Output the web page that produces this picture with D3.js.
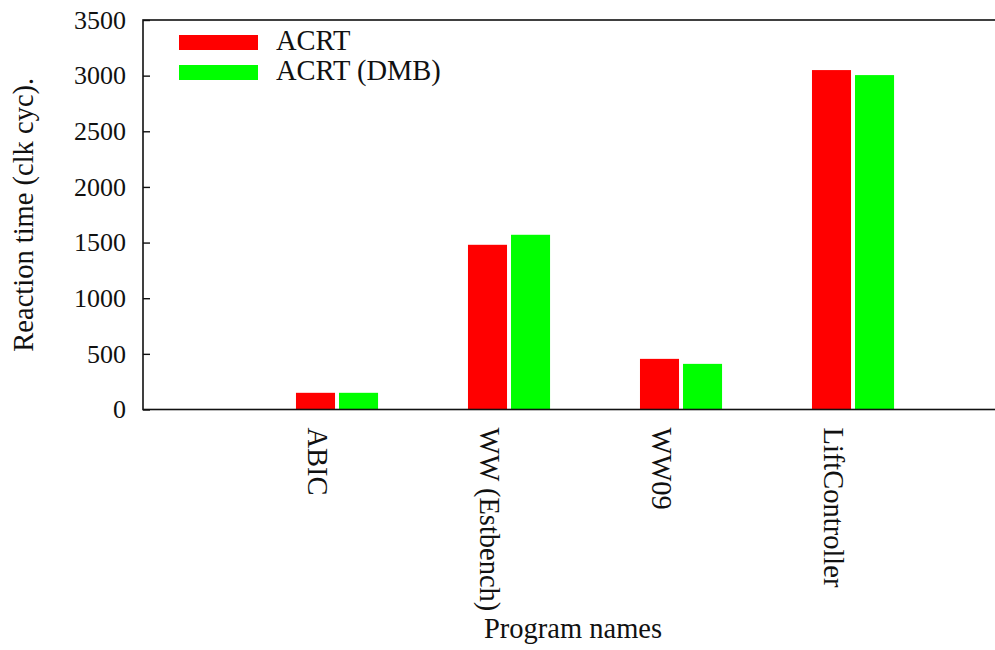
<!DOCTYPE html>
<html>
<head>
<meta charset="utf-8">
<script src="https://cdn.jsdelivr.net/npm/d3@7"></script>
<style>
  body { margin: 0; background: #fff; }
  svg { display: block; }
  text { fill: #111; }
</style>
</head>
<body>
<main></main>
<script>
// program names along the x axis
const programs = ["ABIC", "WW (Estbench)", "WW09", "LiftController"];
// reaction times (clk cyc)
const acrt = [150, 1480, 455, 3050];
const acrtDmb = [150, 1570, 410, 3005];
const seriesNames = ["ACRT", "ACRT (DMB)"];
const seriesColors = ["#ff0000", "#00ff00"];
const yTicks = [0, 500, 1000, 1500, 2000, 2500, 3000, 3500];

const width = 995;
const height = 650;
const margin = {top: 20, left: 143};
const plotW = 860;
const plotH = 389.5;
const fontFamily = "'Liberation Serif', 'DejaVu Serif', 'Times New Roman', serif";
const tickFont = "26px";
const labelFont = "28.5px";

let svg = d3.select("main")
  .append("svg")
  .attr("width", width)
  .attr("height", height)
  .style("font-family", fontFamily);

let g = svg.append("g")
  .attr("transform", `translate(${margin.left},${margin.top})`);

// gnuplot-style histogram: categories sit at integer positions
let x = d3.scaleLinear()
  .domain([-1.128, 3.872])
  .range([0, plotW]);

let y = d3.scaleLinear()
  .domain([0, 3500])
  .range([plotH, 0]);

const barWidth = 0.227;
const halfGap = 0.0116;

// bars
const series = [acrt, acrtDmb];
series.forEach((vals, s) => {
  g.append("g")
    .selectAll("rect")
    .data(vals)
    .join("rect")
      .attr("x", (d, i) => s == 0 ? x(i - halfGap - barWidth) : x(i + halfGap))
      .attr("width", x(barWidth) - x(0))
      .attr("y", d => y(d))
      .attr("height", d => y(0) - y(d))
      .attr("fill", seriesColors[s]);
});

// frame
g.append("rect")
  .attr("x", 0)
  .attr("y", 0)
  .attr("width", plotW)
  .attr("height", plotH)
  .attr("fill", "none")
  .attr("stroke", "#111")
  .attr("stroke-width", 1.6);

// y ticks, inward on both sides
let yAxis = g.append("g")
  .call(d3.axisLeft(y).tickValues(yTicks).tickSize(-7).tickPadding(17).tickFormat(d3.format("d")))
  .attr("font-family", null)
  .attr("font-size", null);
yAxis.select(".domain").remove();
yAxis.selectAll("line").attr("stroke", "#111").attr("stroke-width", 1.4);
yAxis.selectAll("text")
  .style("font-family", fontFamily)
  .style("font-size", tickFont)
  .attr("fill", "#111");

let yAxisR = g.append("g")
  .attr("transform", `translate(${plotW},0)`)
  .call(d3.axisRight(y).tickValues(yTicks).tickSize(-7).tickFormat(""));
yAxisR.select(".domain").remove();
yAxisR.selectAll("line").attr("stroke", "#111").attr("stroke-width", 1.4);

// rotated category labels
g.append("g")
  .selectAll("text")
  .data(programs)
  .join("text")
    .attr("transform", (d, i) => `translate(${x(i) - 29},${plotH + 18}) rotate(90)`)
    .style("font-size", labelFont)
    .text(d => d);

// axis titles
svg.append("text")
  .attr("transform", `translate(33,${margin.top + plotH / 2}) rotate(-90)`)
  .attr("text-anchor", "middle")
  .style("font-size", labelFont)
  .text("Reaction time (clk cyc).");

svg.append("text")
  .attr("x", margin.left + plotW / 2)
  .attr("y", 638)
  .attr("text-anchor", "middle")
  .style("font-size", labelFont)
  .text("Program names");

// legend
let legend = g.append("g")
  .attr("transform", "translate(36,15)");
seriesNames.forEach((name, s) => {
  legend.append("rect")
    .attr("x", 0)
    .attr("y", s * 30)
    .attr("width", 79)
    .attr("height", 15)
    .attr("fill", seriesColors[s]);
  legend.append("text")
    .attr("x", 97)
    .attr("y", s * 30 + 15)
    .style("font-size", labelFont)
    .text(name);
});
</script>
</body>
</html>
